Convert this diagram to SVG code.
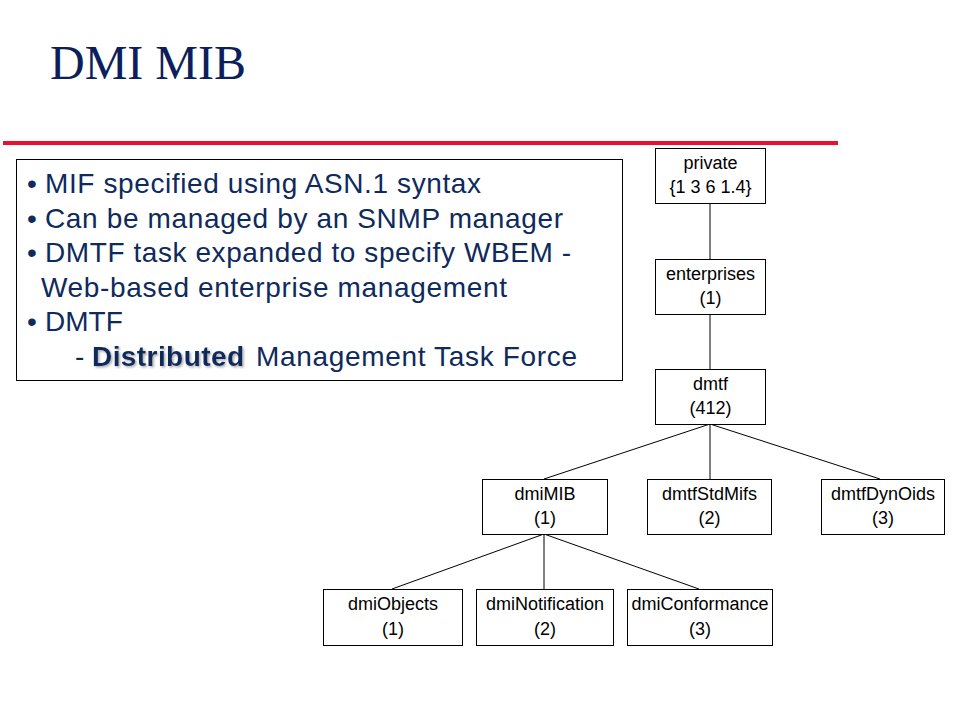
<svg xmlns="http://www.w3.org/2000/svg" width="956" height="717" viewBox="0 0 956 717">
<style>
.node rect{fill:#fff;stroke:#000;stroke-width:1}
.node text{font-family:"Liberation Sans",Arial,sans-serif;font-size:18px;fill:#000;text-anchor:middle}
.bul{font-family:"Liberation Sans",Arial,sans-serif;font-size:28px;fill:#0f2a5c}
#connectors line{stroke:#000;stroke-width:1}
</style>
<defs>
<filter id="sh" x="-5%" y="-20%" width="115%" height="150%">
<feDropShadow dx="1.5" dy="1.5" stdDeviation="0.8" flood-color="#888" flood-opacity="0.7"/>
</filter>
</defs>
<rect width="956" height="717" fill="#fff"/>
<text x="50" y="79" font-family="'Liberation Serif','Times New Roman',serif" font-size="48" fill="#0c1f5c">DMI MIB</text>
<rect x="3" y="141" width="835" height="4" fill="#e8102e"/>
<g id="bullets">
<rect x="16.5" y="159.5" width="606" height="221" fill="#fff" stroke="#000" stroke-width="1"/>
<text class="bul" x="27" y="193">•</text>
<text class="bul" x="45" y="193" textLength="436" lengthAdjust="spacing">MIF specified using ASN.1 syntax</text>
<text class="bul" x="27" y="227.5">•</text>
<text class="bul" x="45" y="227.5" textLength="518" lengthAdjust="spacing">Can be managed by an SNMP manager</text>
<text class="bul" x="27" y="262">•</text>
<text class="bul" x="45" y="262" textLength="526" lengthAdjust="spacing">DMTF task expanded to specify WBEM -</text>
<text class="bul" x="41" y="296.5" textLength="466" lengthAdjust="spacing">Web-based enterprise management</text>
<text class="bul" x="27" y="331">•</text>
<text class="bul" x="45" y="331">DMTF</text>
<text class="bul" x="75" y="366">-</text>
<text class="bul" x="92" y="366" font-weight="bold" filter="url(#sh)" textLength="152" lengthAdjust="spacing">Distributed</text>
<text class="bul" x="256" y="366" textLength="321" lengthAdjust="spacing">Management Task Force</text>
</g>
<g id="connectors">
<line x1="710" y1="203" x2="710" y2="259"/>
<line x1="710" y1="314" x2="710" y2="369"/>
<line x1="710" y1="424" x2="544" y2="479"/>
<line x1="710" y1="424" x2="710" y2="479"/>
<line x1="710" y1="424" x2="880" y2="479"/>
<line x1="544" y1="534" x2="392" y2="589"/>
<line x1="544" y1="534" x2="544" y2="589"/>
<line x1="544" y1="534" x2="699" y2="589"/>
</g>
<g id="private" class="node"><rect x="655.5" y="148.5" width="110" height="55"/><text x="710.5" y="169">private</text><text x="710.5" y="193">{1 3 6 1.4}</text></g>
<g id="enterprises" class="node"><rect x="655.5" y="259.5" width="110" height="55"/><text x="710.5" y="280">enterprises</text><text x="710.5" y="304">(1)</text></g>
<g id="dmtf" class="node"><rect x="655.5" y="369.5" width="110" height="55"/><text x="710.5" y="390">dmtf</text><text x="710.5" y="414">(412)</text></g>
<g id="dmiMIB" class="node"><rect x="482.5" y="479.5" width="125" height="55"/><text x="545" y="500">dmiMIB</text><text x="545" y="524">(1)</text></g>
<g id="dmtfStdMifs" class="node"><rect x="647.5" y="479.5" width="124" height="55"/><text x="709.5" y="500">dmtfStdMifs</text><text x="709.5" y="524">(2)</text></g>
<g id="dmtfDynOids" class="node"><rect x="821.5" y="479.5" width="123" height="55"/><text x="883" y="500">dmtfDynOids</text><text x="883" y="524">(3)</text></g>
<g id="dmiObjects" class="node"><rect x="323.5" y="589.5" width="139" height="56"/><text x="393" y="610">dmiObjects</text><text x="393" y="635">(1)</text></g>
<g id="dmiNotification" class="node"><rect x="476.5" y="589.5" width="137" height="56"/><text x="545" y="610">dmiNotification</text><text x="545" y="635">(2)</text></g>
<g id="dmiConformance" class="node"><rect x="627.5" y="589.5" width="145" height="56"/><text x="700" y="610">dmiConformance</text><text x="700" y="635">(3)</text></g>
</svg>
